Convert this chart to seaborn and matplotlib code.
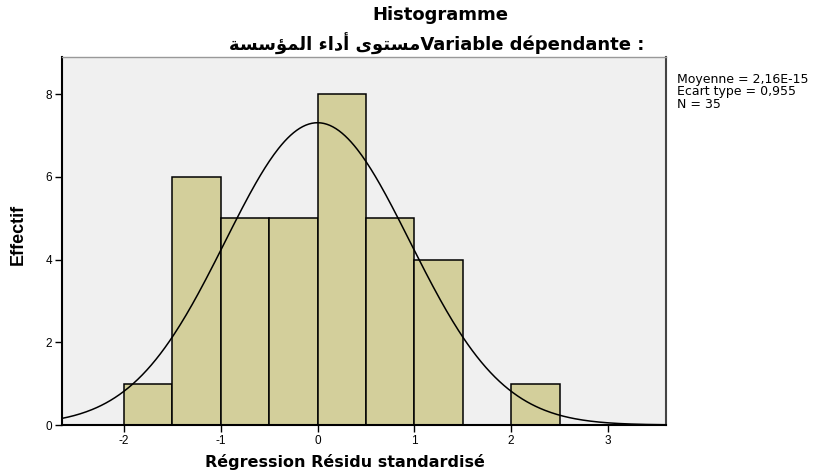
import numpy as np
import pandas as pd
import matplotlib
matplotlib.use("Agg")
import matplotlib.pyplot as plt
import seaborn as sns

# histogram bins (standardised residual) and counts
bin_edges = [-2.0, -1.5, -1.0, -0.5, 0.0, 0.5, 1.0, 1.5, 2.0, 2.5]
counts = [1, 6, 5, 5, 8, 5, 4, 0, 1]

# summary stats shown at the right
mean_val = 2.16e-15
sd_val = 0.955
n_obs = 35

x_ticks = [-2, -1, 0, 1, 2, 3]
y_ticks = [0, 2, 4, 6, 8]

sns.set_theme(style="white")
plt.rcParams["font.family"] = ["Liberation Sans", "DejaVu Sans"]
plt.rcParams.update({"text.color": "black", "axes.labelcolor": "black",
                     "xtick.color": "black", "ytick.color": "black"})
wide_bold = ["DejaVu Sans"]

df = pd.DataFrame({"mid": [(a + b) / 2 for a, b in zip(bin_edges[:-1], bin_edges[1:])],
                   "count": counts})

fig = plt.figure(figsize=(8.18, 4.73), dpi=100)
ax = fig.add_axes([62 / 818, 1 - 425 / 473, (666 - 62) / 818, (425 - 57) / 473])
ax.set_facecolor("#f0f0f0")

sns.histplot(data=df, x="mid", weights="count", bins=bin_edges, ax=ax,
             color="#d3cf9b", alpha=1, edgecolor="black", linewidth=1.1)

# fitted normal curve scaled to counts
xs = np.linspace(-2.64, 3.6, 400)
bw = bin_edges[1] - bin_edges[0]
ys = n_obs * bw * np.exp(-0.5 * ((xs - mean_val) / sd_val) ** 2) / (sd_val * np.sqrt(2 * np.pi))
sns.lineplot(x=xs, y=ys, ax=ax, color="black", linewidth=1.1)

ax.set_xlim(-2.64, 3.6)
ax.set_ylim(0, 8.9)
ax.set_xticks(x_ticks)
ax.set_xticklabels([str(t) for t in x_ticks])
ax.set_yticks(y_ticks)
ax.tick_params(axis="both", length=5, width=1, color="black", labelcolor="black",
               labelsize=8.5, pad=2, direction="out", bottom=True, left=True)

for side in ["left", "bottom"]:
    ax.spines[side].set_color("black")
    ax.spines[side].set_linewidth(1.5)
ax.spines["top"].set_color("#999999")
ax.spines["top"].set_linewidth(1)
ax.spines["right"].set_color("#444444")
ax.spines["right"].set_linewidth(1.5)

ax.set_xlabel("Régression Résidu standardisé", fontsize=11.5, fontweight="bold",
              family=wide_bold, va="center", color="black")
ax.xaxis.set_label_coords((345 - 62) / 604, (425 - 462) / 368)
ax.set_ylabel("Effectif", fontsize=13, fontweight="bold", va="center", ha="center",
              color="black")
ax.yaxis.set_label_coords((18 - 62) / 604, (425 - 234) / 368)

fig.text(440 / 818, 1 - 15 / 473, "Histogramme", ha="center", va="center",
         fontsize=13, fontweight="bold", family=wide_bold, color="black")
# Arabic written in presentation forms, visual order
arabic = "\uFE94\uFEB4\uFEB3\uFE86\uFEE4\uFEDF\uFE8D \uFE80\uFE8D\uFEA9\uFE83 \uFEEF\uFEEE\uFE98\uFEB4\uFEE3"
fig.text(437 / 818, 1 - 44 / 473, arabic + "Variable dépendante :", ha="center", va="center",
         fontsize=13, fontweight="bold", family=wide_bold, color="black")

fig.text(677 / 818, 1 - 92 / 473,
         "Moyenne = 2,16E-15\nEcart type = 0,955\nN = 35",
         ha="left", va="center", fontsize=9, linespacing=0.93, family=wide_bold,
         color="black")

fig.savefig("out.png", dpi=100)
